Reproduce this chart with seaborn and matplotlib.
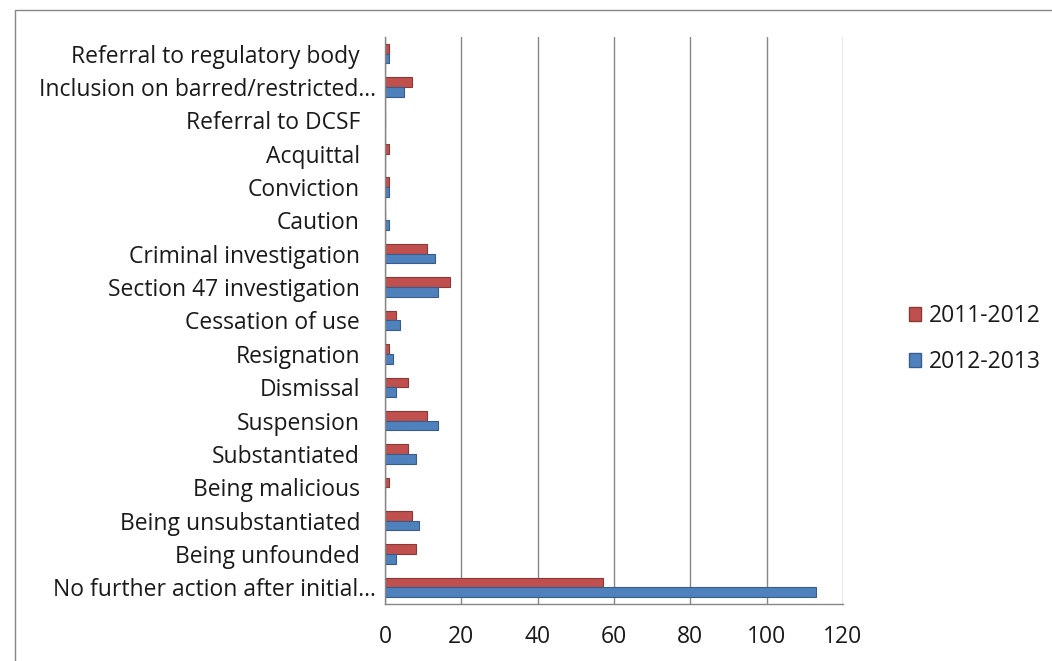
import matplotlib.pyplot as plt
import matplotlib.patches as mpatches
import matplotlib.transforms as mtransforms
import seaborn as sns
import numpy as np
import pandas as pd

# == DATA ==
categories = [
    "Referral to regulatory body",
    "Inclusion on barred/restricted...",
    "Referral to DCSF",
    "Acquittal",
    "Conviction",
    "Caution",
    "Criminal investigation",
    "Section 47 investigation",
    "Cessation of use",
    "Resignation",
    "Dismissal",
    "Suspension",
    "Substantiated",
    "Being malicious",
    "Being unsubstantiated",
    "Being unfounded",
    "No further action after initial...",
]
values_2011_2012 = [1, 7, 0, 1, 1, 0, 11, 17, 3, 1, 6, 11, 6, 1, 7, 8, 57]
values_2012_2013 = [1, 5, 0, 0, 1, 1, 13, 14, 4, 2, 3, 14, 8, 0, 9, 3, 113]
series = ["2011-2012", "2012-2013"]
x_ticks = [0, 20, 40, 60, 80, 100, 120]

df = pd.DataFrame({
    "category": categories * 2,
    "value": values_2011_2012 + values_2012_2013,
    "series": [series[0]] * len(categories) + [series[1]] * len(categories),
})

colors = {"2011-2012": "#C0504D", "2012-2013": "#4F81BD"}
edges = {"2011-2012": "#8C3836", "2012-2013": "#385D8A"}

sns.set_style("white")
plt.rcParams["font.family"] = ["Open Sans", "DejaVu Sans"]
FS = 16.5
TXT = "#1a1a1a"

fig = plt.figure(figsize=(10.52, 6.61), dpi=100)
ax = fig.add_axes([385 / 1052, 1 - 604 / 661, (843 - 385) / 1052, (604 - 37) / 661])

sns.barplot(data=df, y="category", x="value", hue="series", order=categories,
            hue_order=series, palette=colors, orient="h", width=0.58,
            ax=ax, legend=False, saturation=1)

for container, s in zip(ax.containers, series):
    for bar in container:
        bar.set_edgecolor(edges[s])
        bar.set_linewidth(0.8)

ax.set_xlim(0, 120)
ax.set_ylim(len(categories) - 0.5, -0.5)
ax.set_xticks(x_ticks)
ax.set_xticklabels([str(t) for t in x_ticks], fontsize=FS, color=TXT)
ax.set_yticks(range(len(categories)))
ax.set_yticklabels(categories, fontsize=FS, color=TXT)
ax.set_yticks(np.arange(-0.5, len(categories)), minor=True)
ax.tick_params(axis="y", which="major", length=0, pad=18)
ax.tick_params(axis="y", which="minor", length=5, color="#868686", width=1)
ax.tick_params(axis="x", length=5, color="#868686", width=1, pad=10)
ax.set_xlabel("")
ax.set_ylabel("")

# truncated labels hang their dots past the others, as in Excel
shift = mtransforms.ScaledTranslation(16 / 100, 0, fig.dpi_scale_trans)
for label in ax.get_yticklabels():
    if label.get_text().endswith("..."):
        label.set_transform(label.get_transform() + shift)

ax.xaxis.grid(True, color="#868686", linewidth=1)
ax.set_axisbelow(True)
for side in ["top", "right"]:
    ax.spines[side].set_visible(False)
for side in ["left", "bottom"]:
    ax.spines[side].set_color("#868686")
    ax.spines[side].set_linewidth(1)

# Legend
handles = [mpatches.Patch(facecolor=colors[s], edgecolor=edges[s], label=s) for s in series]
fig.legend(handles=handles, loc="center left", bbox_to_anchor=(888 / 1052, 1 - 339 / 661),
           frameon=False, fontsize=FS, handlelength=0.55, handleheight=0.55,
           handletextpad=0.35, labelspacing=0.95, labelcolor=TXT)

# Chart border
fig.patches.append(mpatches.Rectangle((15 / 1052, -0.1), 1.2, 1 - 10 / 661 + 0.1,
                                      transform=fig.transFigure, fill=False,
                                      edgecolor="#868686", linewidth=1))

fig.savefig("out.png", dpi=100)
